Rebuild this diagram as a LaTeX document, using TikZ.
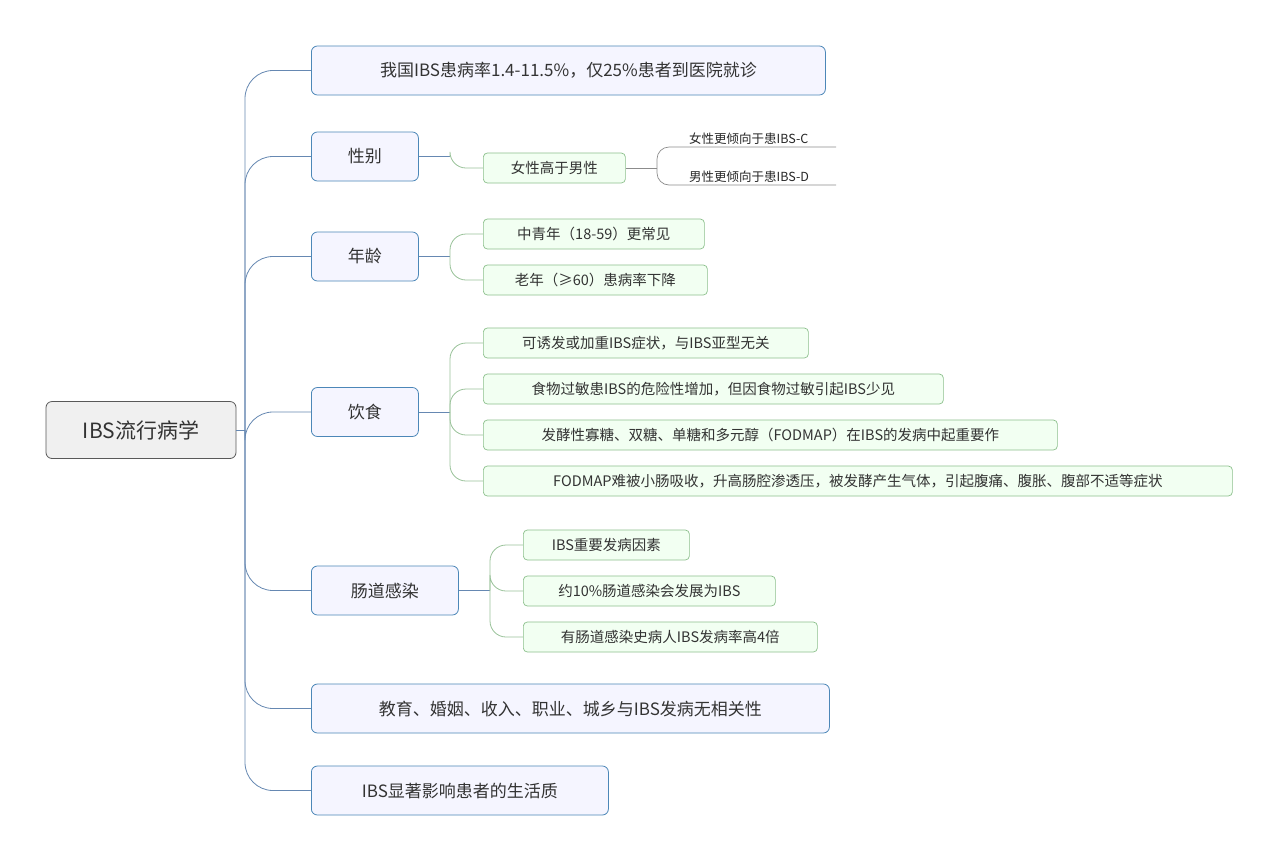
\documentclass[tikz,border=0pt]{standalone}
\usepackage{fontspec}
\setmainfont{Noto Sans CJK SC}
\begin{document}
\begin{tikzpicture}[x=1pt,y=-1pt,
  rootbox/.style={draw=black!65,fill=black!6,rounded corners=6pt,line width=0.8pt,font=\fontsize{21}{24}\selectfont,text=black!80,inner sep=0pt},
  lonebox/.style={draw=blue!45!cyan!60!black!70,fill=blue!4,rounded corners=6pt,line width=0.8pt,font=\fontsize{17}{20}\selectfont,text=black!80,inner sep=0pt,anchor=west},
  ltwobox/.style={draw=green!45!black!45,fill=green!5,rounded corners=4pt,line width=0.7pt,font=\fontsize{14.5}{17}\selectfont,text=black!80,inner sep=0pt,anchor=west},
  lthree/.style={font=\fontsize{12.5}{15}\selectfont,text=black!85,anchor=south west,inner sep=1pt},
  blink/.style={draw=blue!55!cyan!50!black!60,line width=0.8pt,rounded corners=28pt},
  glink/.style={draw=green!40!black!40,line width=0.8pt,rounded corners=16pt},
  hlink/.style={draw=black!45,line width=0.7pt,rounded corners=12pt}]
\useasboundingbox (0,0) rectangle (1280,860);
\fill[white] (0,0) rectangle (1280,860);
\node[rootbox,minimum width=190pt,minimum height=57pt] (root) at (141,430) {IBS流行病学};
\node[lonebox,minimum width=514pt,minimum height=49pt] (b1) at (311,70.5) {我国IBS患病率1.4-11.5\%，仅25\%患者到医院就诊};
\node[lonebox,minimum width=107pt,minimum height=49pt] (b2) at (311,156.5) {性别};
\node[lonebox,minimum width=107pt,minimum height=49pt] (b3) at (311,256.5) {年龄};
\node[lonebox,minimum width=107pt,minimum height=49pt] (b4) at (311,412) {饮食};
\node[lonebox,minimum width=147pt,minimum height=49pt] (b5) at (311,590.5) {肠道感染};
\node[lonebox,minimum width=518pt,minimum height=49pt] (b6) at (311,708.5) {教育、婚姻、收入、职业、城乡与IBS发病无相关性};
\node[lonebox,minimum width=297pt,minimum height=49pt] (b7) at (311,790.5) {IBS显著影响患者的生活质};
\coordinate (t) at (245,430);
\draw[blink] (root.east) -- (t);
\foreach \b in {b1,b2,b3,b4,b5,b6,b7} \draw[blink] (t) |- (\b.west);
% level 2
\node[ltwobox,minimum width=142pt,minimum height=30pt] (g1) at (483,168) {女性高于男性};
\node[ltwobox,minimum width=221pt,minimum height=30pt] (a1) at (483,234) {中青年（18-59）更常见};
\node[ltwobox,minimum width=224pt,minimum height=30pt] (a2) at (483,280) {老年（≥60）患病率下降};
\node[ltwobox,minimum width=325pt,minimum height=30pt] (d1) at (483,343) {可诱发或加重IBS症状，与IBS亚型无关};
\node[ltwobox,minimum width=460pt,minimum height=30pt] (d2) at (483,389) {食物过敏患IBS的危险性增加，但因食物过敏引起IBS少见};
\node[ltwobox,minimum width=574pt,minimum height=30pt] (d3) at (483,435) {发酵性寡糖、双糖、单糖和多元醇（FODMAP）在IBS的发病中起重要作};
\node[ltwobox,minimum width=749pt,minimum height=30pt] (d4) at (483,481) {FODMAP难被小肠吸收，升高肠腔渗透压，被发酵产生气体，引起腹痛、腹胀、腹部不适等症状};
\node[ltwobox,minimum width=166pt,minimum height=30pt] (i1) at (523,545) {IBS重要发病因素};
\node[ltwobox,minimum width=252pt,minimum height=30pt] (i2) at (523,591) {约10\%肠道感染会发展为IBS};
\node[ltwobox,minimum width=294pt,minimum height=30pt] (i3) at (523,637) {有肠道感染史病人IBS发病率高4倍};
% level 2 links
\coordinate (pg) at (450,156.5);
\draw[blink] (b2.east) -- (pg);
\draw[glink] (pg) |- (g1.west);
\coordinate (pa) at (450,256.5);
\draw[blink] (b3.east) -- (pa);
\foreach \n in {a1,a2} \draw[glink] (pa) |- (\n.west);
\coordinate (pd) at (450,412);
\draw[blink] (b4.east) -- (pd);
\foreach \n in {d1,d2,d3,d4} \draw[glink] (pd) |- (\n.west);
\coordinate (pi) at (490,590.5);
\draw[blink] (b5.east) -- (pi);
\foreach \n in {i1,i2,i3} \draw[glink] (pi) |- (\n.west);
% level 3
\node[lthree] (s1) at (688,146) {女性更倾向于患IBS-C};
\node[lthree] (s2) at (688,184) {男性更倾向于患IBS-D};
\coordinate (ps) at (657,168);
\coordinate (e1) at (836,147);
\coordinate (e2) at (836,185);
\draw[hlink] (g1.east) -- (ps);
\draw[hlink] (ps) |- (e1);
\draw[hlink] (ps) |- (e2);
\end{tikzpicture}
\end{document}
